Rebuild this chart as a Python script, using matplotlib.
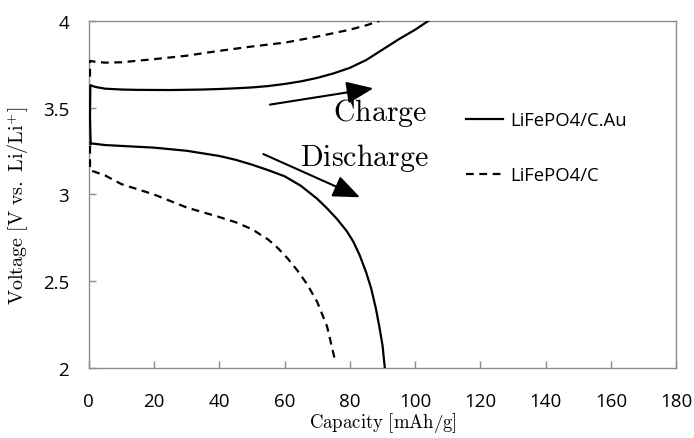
import matplotlib
matplotlib.use("Agg")
import matplotlib.pyplot as plt

plt.rcParams['mathtext.fontset'] = 'cm'

# Data
au_charge_x = [0.6, 0.4, 0.5, 2, 5, 10, 15, 25, 35, 40, 45, 50, 55, 60, 65, 70, 75, 80, 85, 90, 95, 100, 104]
au_charge_y = [3.29, 3.45, 3.63, 3.62, 3.61, 3.605, 3.603, 3.602, 3.605, 3.608, 3.612, 3.617, 3.625, 3.637, 3.652, 3.672, 3.698, 3.73, 3.775, 3.835, 3.895, 3.95, 4.0]

au_dis_x = [0.6, 5, 10, 20, 30, 40, 45, 50, 55, 60, 65, 70, 73, 76, 79, 81, 83, 85, 86.5, 88, 89, 90, 90.7]
au_dis_y = [3.295, 3.285, 3.28, 3.27, 3.252, 3.222, 3.2, 3.172, 3.14, 3.105, 3.05, 2.975, 2.92, 2.86, 2.79, 2.73, 2.65, 2.55, 2.46, 2.34, 2.24, 2.13, 2.0]

c_charge_x = [0.4, 0.4, 2, 5, 10, 20, 30, 40, 50, 60, 70, 80, 85, 89]
c_charge_y = [3.68, 3.77, 3.765, 3.76, 3.762, 3.78, 3.80, 3.828, 3.853, 3.875, 3.91, 3.95, 3.975, 4.0]

c_dis_x = [0.4, 0.4, 5, 10, 20, 30, 40, 45, 50, 55, 58, 61, 64, 67, 70, 73, 75.5]
c_dis_y = [3.28, 3.14, 3.11, 3.06, 3.0, 2.925, 2.87, 2.84, 2.80, 2.74, 2.69, 2.63, 2.56, 2.48, 2.38, 2.24, 2.04]

x_ticks = [0, 20, 40, 60, 80, 100, 120, 140, 160, 180]
y_ticks = [2, 2.5, 3, 3.5, 4]
y_ticklabels = ['2', '2.5', '3', '3.5', '4']

fig = plt.figure(figsize=(6.94, 4.39), dpi=100)
ax = fig.add_axes([0.1278, 0.1595, 0.8468, 0.7904])

dash = (0, (3.5, 2.5))
ax.plot(au_charge_x, au_charge_y, color='black', lw=1.6, label='LiFePO4/C.Au', zorder=3)
ax.plot(au_dis_x, au_dis_y, color='black', lw=1.6, zorder=3)
ax.plot(c_charge_x, c_charge_y, color='black', lw=1.6, linestyle=dash, label='LiFePO4/C', zorder=3)
ax.plot(c_dis_x, c_dis_y, color='black', lw=1.6, linestyle=dash, zorder=3)

ax.set_xlim(0, 180)
ax.set_ylim(2, 4)
ax.set_xticks(x_ticks)
ax.set_xticklabels([str(t) for t in x_ticks])
ax.set_yticks(y_ticks)
ax.set_yticklabels(y_ticklabels)

for s in ax.spines.values():
    s.set_color('#8c8c8c')
    s.set_linewidth(1.0)
ax.tick_params(direction='in', length=5, width=1, color='#8c8c8c', labelsize=13.5)
ax.tick_params(axis='x', pad=17)
ax.tick_params(axis='y', pad=14)
for lab in ax.get_xticklabels() + ax.get_yticklabels():
    lab.set_fontfamily('Open Sans')

ax.set_xlabel(r'$\mathrm{Capacity\ [mAh/g]}$', fontsize=13.5)
ax.set_ylabel(r'$\mathrm{Voltage\ [V\ vs.\ Li/Li^{+}]}$', fontsize=14.5)
ax.xaxis.set_label_coords(0.5, -0.122)
ax.yaxis.set_label_coords(-0.098, 0.47)

arrow_kw = dict(arrowstyle='-|>,head_length=1.1,head_width=0.45', color='black', lw=1.5,
                shrinkA=0, shrinkB=0, mutation_scale=15)
ax.annotate('', xy=(87.2, 3.612), xytext=(55.5, 3.518), arrowprops=arrow_kw)
ax.annotate('', xy=(83.1, 2.984), xytext=(53.5, 3.233), arrowprops=arrow_kw)

ax.text(74.8, 3.475, r'$\mathrm{Charge}$', fontsize=21.5, ha='left', va='center')
ax.text(64.7, 3.216, r'$\mathrm{Discharge}$', fontsize=21.5, ha='left', va='center')

leg = ax.legend(loc='center left', bbox_to_anchor=(0.6715, 0.6617), bbox_transform=fig.transFigure,
                frameon=False, borderpad=0, borderaxespad=0, handlelength=2.0,
                handletextpad=0.4, labelspacing=2.0, prop={'family': 'Open Sans', 'size': 13.3})

fig.savefig('out.png', dpi=100)
